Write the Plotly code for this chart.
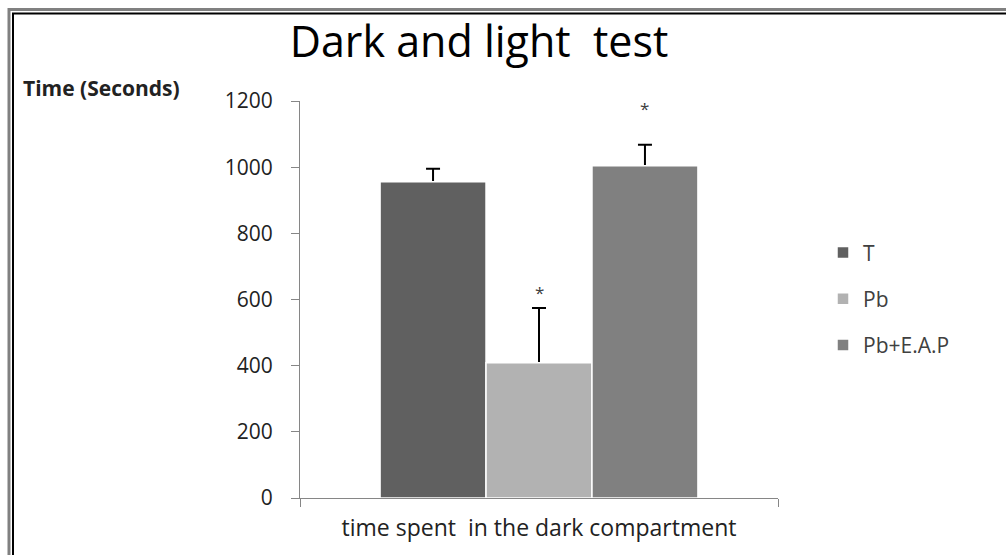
import plotly.graph_objects as go

# ---- data ----
categories = ["time spent\u00a0 in the dark compartment"]
groups = ["T", "Pb", "Pb+E.A.P"]
values = [956, 409, 1004]
errors = [39, 165, 64]
colors = ["#606060", "#b2b2b2", "#808080"]
star_groups = ["Pb", "Pb+E.A.P"]
star_values = [622, 1176]
y_ticks = [0, 200, 400, 600, 800, 1000, 1200]

W, H = 1006, 555
L, R, T, B = 300, 228, 101, 55
BARGAP = 0.335
FONT = "Open Sans"

fig = go.Figure()

# error bars (drawn first, then covered at their base by the visible bars)
for g, v, e in zip(groups, values, errors):
    fig.add_trace(go.Bar(
        x=categories, y=[v], offsetgroup=g, showlegend=False, hoverinfo="skip",
        marker=dict(color="rgba(0,0,0,0)", line=dict(width=0)),
        error_y=dict(type="data", symmetric=False, array=[e], arrayminus=[20],
                     color="#000000", thickness=2, width=7),
    ))

for g, v, c in zip(groups, values, colors):
    fig.add_trace(go.Bar(
        x=categories, y=[v], name=g, offsetgroup=g, legendgroup=g,
        marker=dict(color=c, line=dict(color="#ffffff", width=1.5)),
    ))

# asterisks
bw = (1 - BARGAP) / len(groups)
for g, sv in zip(star_groups, star_values):
    k = groups.index(g)
    fig.add_annotation(x=(k - 1) * bw, y=sv, xref="x", yref="y", text="*",
                       showarrow=False, yanchor="middle",
                       font=dict(family=FONT, size=17, color="#404040"))

def px(x):
    return (x - L) / (W - L - R)

def py(y):
    return (H - B - y) / (H - T - B)

# frame (double border)
fig.add_shape(type="path", xref="paper", yref="paper",
              path=f"M {px(9)} {py(560)} L {px(9)} {py(9)} L {px(1010)} {py(9)}",
              line=dict(color="#808080", width=3))
fig.add_shape(type="path", xref="paper", yref="paper",
              path=f"M {px(13)} {py(560)} L {px(13)} {py(13)} L {px(1010)} {py(13)}",
              line=dict(color="#000000", width=2))

# y-axis title
fig.add_annotation(x=px(21), y=py(88), xref="paper", yref="paper",
                   text="<b>Time (Seconds)</b>", showarrow=False,
                   xanchor="left", yanchor="middle",
                   font=dict(family=FONT, size=21, color="#222222"))

fig.update_layout(
    width=W, height=H,
    margin=dict(l=L, r=R, t=T, b=B, pad=0),
    paper_bgcolor="#ffffff", plot_bgcolor="#ffffff",
    barmode="group", bargap=BARGAP, bargroupgap=0,
    title=dict(text="Dark and light\u00a0 test", x=479 / W, xanchor="center",
               y=1 - 42 / H, yanchor="middle",
               font=dict(family=FONT, size=43, color="#000000")),
    legend=dict(x=px(823), y=py(233), xanchor="left", yanchor="top",
                font=dict(family=FONT, size=21, color="#404040"),
                tracegroupgap=16, bgcolor="rgba(0,0,0,0)"),
    font=dict(family=FONT),
    showlegend=True,
)

fig.update_xaxes(type="category", showline=True, linecolor="#868686", linewidth=1,
                 ticks="outside", tickson="boundaries", ticklen=8, tickcolor="#868686",
                 tickfont=dict(family=FONT, size=23, color="#222222"),
                 ticklabelstandoff=9,
                 showgrid=False, zeroline=False)
fig.update_yaxes(range=[0, 1200], tickvals=y_ticks, showline=True, linecolor="#868686",
                 linewidth=1, ticks="outside", ticklen=8, tickcolor="#868686",
                 tickfont=dict(family=FONT, size=21, color="#222222"),
                 ticklabelstandoff=14,
                 showgrid=False, zeroline=False)

fig.write_html("out.html",
               config={"displayModeBar": False},
               post_script="document.body.style.margin='0px';"
                           "document.body.style.overflow='hidden';")
